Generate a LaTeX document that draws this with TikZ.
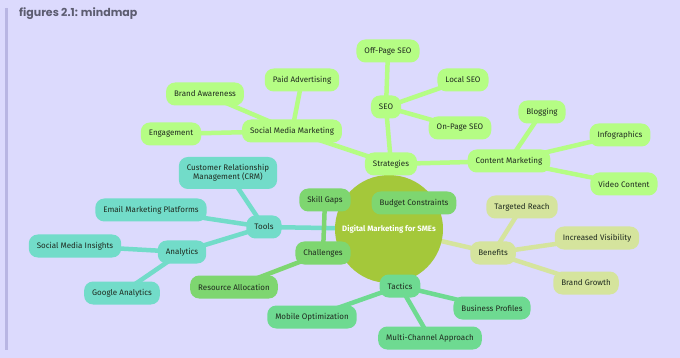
\documentclass[tikz,border=0pt]{standalone}
\usepackage{fontspec}
\setmainfont{Fira Sans}
\newfontfamily\titlefont{Poppins}
\usetikzlibrary{backgrounds}
\definecolor{pageCol}{HTML}{DCDAFD}
\definecolor{barCol}{HTML}{B9B6E3}
\definecolor{titleCol}{HTML}{5C5C70}
\definecolor{txtCol}{HTML}{1F2A1F}
\definecolor{rootCol}{HTML}{A4C83A}
\definecolor{stratCol}{HTML}{B5FD84}
\definecolor{toolCol}{HTML}{72DCC9}
\definecolor{challCol}{HTML}{7ED670}
\definecolor{tactCol}{HTML}{6EDA91}
\definecolor{beneCol}{HTML}{D5E49D}
\tikzset{
  root/.style={circle, fill=rootCol, minimum size=108pt, inner sep=0pt, text=white,
        font=\fontsize{7.8}{9}\selectfont\bfseries},
  idea/.style={fill=#1, rounded corners=9pt, align=center, text=txtCol,
        font=\fontsize{8}{9}\selectfont, inner xsep=8pt, inner ysep=2pt, minimum height=23pt},
  link/.style={draw=#1, line width=4.5pt, line cap=round},
}
\begin{document}
\begin{tikzpicture}[x=1pt, y=-1pt]
  \useasboundingbox (0,0) rectangle (680,358);
  \node[anchor=west, font=\titlefont\fontsize{11}{13}\selectfont\bfseries, text=titleCol, inner sep=0pt]
       (title) at (19,14) {figures 2.1: mindmap};
  \node[root] (dm) at (389,229) {Digital Marketing for SMEs};
  % strategies
  \node[idea=stratCol] (st)    at (391,164) {Strategies};
  \node[idea=stratCol] (seo)   at (386,107) {SEO};
  \node[idea=stratCol] (off)   at (388,51)  {Off-Page SEO};
  \node[idea=stratCol] (loc)   at (463,80)  {Local SEO};
  \node[idea=stratCol] (onp)   at (460,128) {On-Page SEO};
  \node[idea=stratCol] (smm)   at (292,131) {Social Media Marketing};
  \node[idea=stratCol] (paid)  at (302,80)  {Paid Advertising};
  \node[idea=stratCol] (brand) at (205,94)  {Brand Awareness};
  \node[idea=stratCol] (eng)   at (171,134) {Engagement};
  \node[idea=stratCol] (cm)    at (509,161) {Content Marketing};
  \node[idea=stratCol] (blog)  at (542,112) {Blogging};
  \node[idea=stratCol] (info)  at (620,135) {Infographics};
  \node[idea=stratCol] (video) at (624,184) {Video Content};
  % tools
  \node[idea=toolCol] (tools) at (264,227) {Tools};
  \node[idea=toolCol, minimum height=32pt] (crm) at (228,173) {Customer Relationship\\Management (CRM)};
  \node[idea=toolCol] (email) at (151,210) {Email Marketing Platforms};
  \node[idea=toolCol] (ana)   at (182,252) {Analytics};
  \node[idea=toolCol] (smi)   at (75,246)  {Social Media Insights};
  \node[idea=toolCol] (ga)    at (122,293) {Google Analytics};
  % challenges
  \node[idea=challCol] (ch)   at (323,253) {Challenges};
  \node[idea=challCol] (sg)   at (325,200) {Skill Gaps};
  \node[idea=challCol] (bc)   at (414,203) {Budget Constraints};
  \node[idea=challCol] (ra)   at (234,287) {Resource Allocation};
  % tactics
  \node[idea=tactCol] (tac)   at (400,286) {Tactics};
  \node[idea=tactCol] (bp)    at (492,308) {Business Profiles};
  \node[idea=tactCol] (mca)   at (430,338) {Multi-Channel Approach};
  \node[idea=tactCol] (mo)    at (312,317) {Mobile Optimization};
  % benefits
  \node[idea=beneCol] (ben)   at (493,253) {Benefits};
  \node[idea=beneCol] (tr)    at (522,207) {Targeted Reach};
  \node[idea=beneCol] (iv)    at (597,238) {Increased Visibility};
  \node[idea=beneCol] (bg)    at (586,283) {Brand Growth};
  \begin{scope}[on background layer]
    \fill[pageCol] (0,0) rectangle (680,358);
    \fill[barCol] (5,8) rectangle (8,350);
    \foreach \a/\b in {dm/st, st/seo, seo/off, seo/loc, seo/onp, st/smm, smm/paid, smm/brand,
                       smm/eng, st/cm, cm/blog, cm/info, cm/video}
      \draw[link=stratCol] (\a.center) -- (\b.center);
    \foreach \a/\b in {dm/tools, tools/crm, tools/email, tools/ana, ana/smi, ana/ga}
      \draw[link=toolCol] (\a.center) -- (\b.center);
    \foreach \a/\b in {dm/ch, ch/sg, ch/bc, ch/ra}
      \draw[link=challCol] (\a.center) -- (\b.center);
    \foreach \a/\b in {dm/tac, tac/bp, tac/mca, tac/mo}
      \draw[link=tactCol] (\a.center) -- (\b.center);
    \foreach \a/\b in {dm/ben, ben/tr, ben/iv, ben/bg}
      \draw[link=beneCol] (\a.center) -- (\b.center);
  \end{scope}
\end{tikzpicture}
\end{document}
